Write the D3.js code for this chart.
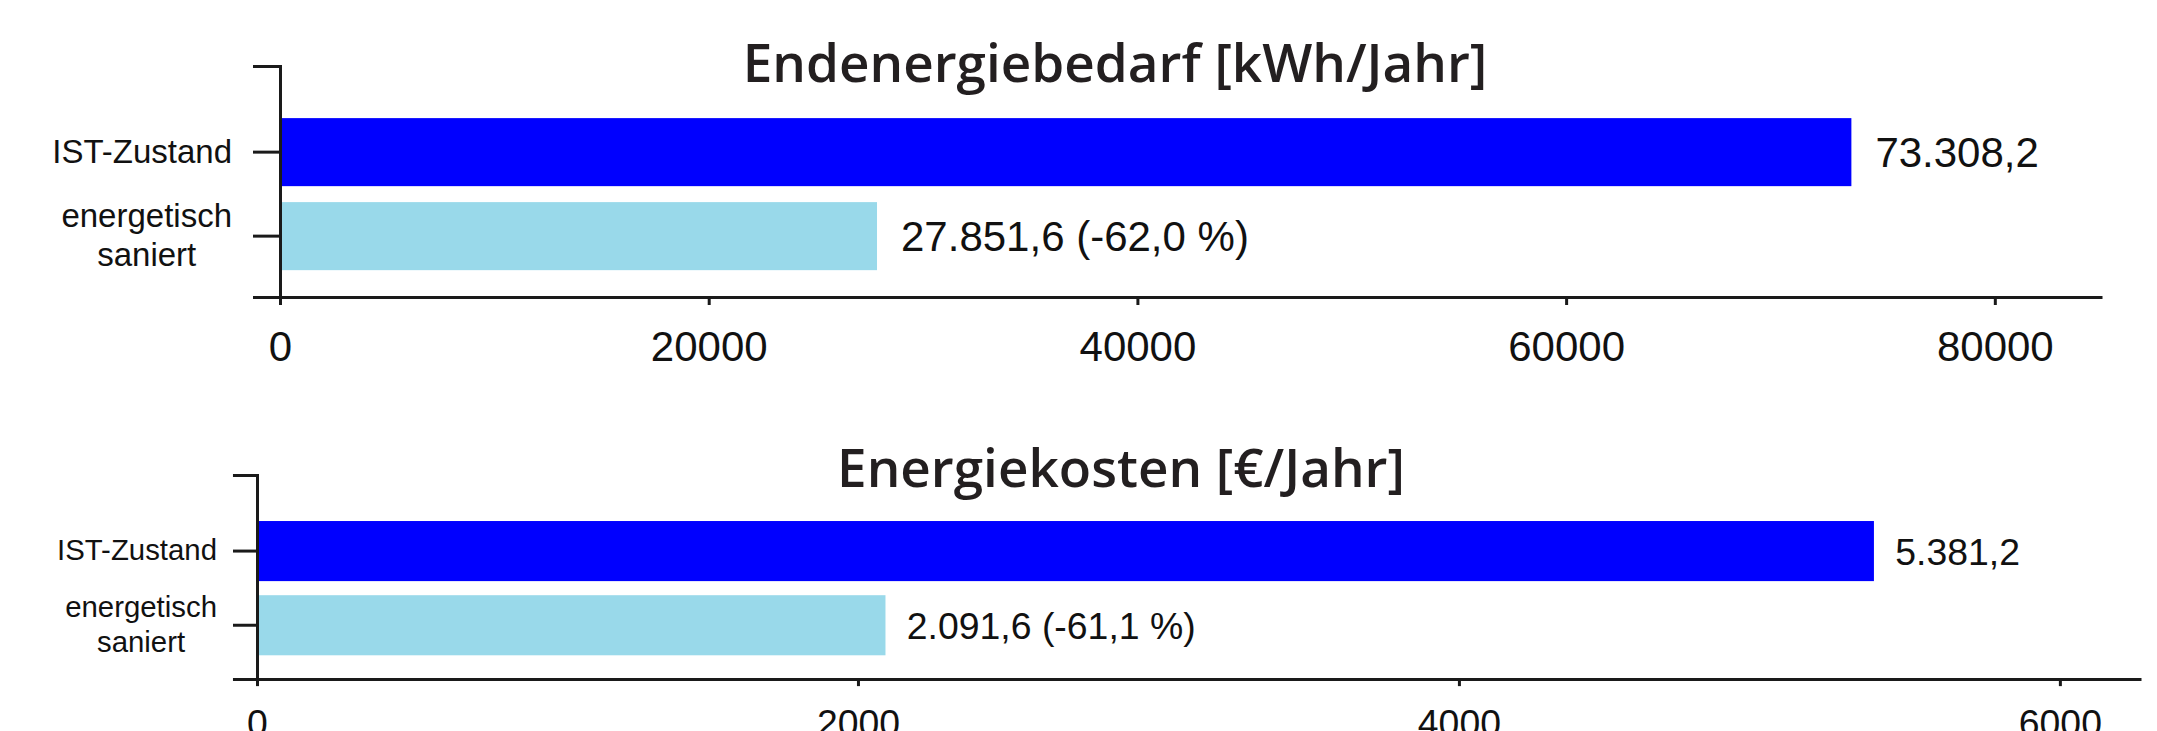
<!DOCTYPE html>
<html lang="de">
<head>
<meta charset="utf-8">
<title>Endenergiebedarf und Energiekosten</title>
<script src="https://cdn.jsdelivr.net/npm/d3@7.9.0/dist/d3.min.js"></script>
<style>
  html, body { margin: 0; padding: 0; background: #fff; }
  svg { display: block; }
  .title { font-family: "Open Sans", sans-serif; font-weight: 600; fill: #231f20; }
  .axis text, .value { font-family: "Liberation Sans", Arial, sans-serif; fill: #111; }
  .axis path, .axis line { stroke: #1a1a1a; stroke-width: 3; }
</style>
</head>
<body>
<svg id="chart"></svg>
<script>
// categories (line breaks as in the original labels)
const categories = ['IST-Zustand', 'energetisch\nsaniert'];

// values
const demandValues = [73308.2, 27851.6]; // kWh/Jahr
const costValues = [5381.2, 2091.6]; // €/Jahr

// tick labels
const demandTicks = [0, 20000, 40000, 60000, 80000];
const costTicks = [0, 2000, 4000, 6000];

const barColors = ['#0000ff', '#99d9ea'];

const width = 2157;
const height = 731;

// german number format: 73.308,2
const de = d3.formatLocale({ decimal: ',', thousands: '.', grouping: [3], currency: ['', ' €'], minus: '-' });
const num = de.format(',.1f');

const panels = [
  {
    title: 'Endenergiebedarf [kWh/Jahr]', values: demandValues, ticks: demandTicks, max: 85000,
    left: 280, right: 2102, top: 66, bottom: 297, titleX: 1115, titleY: 82, labelPad: 21, k: 1,
  },
  {
    title: 'Energiekosten [€/Jahr]', values: costValues, ticks: costTicks, max: 6270,
    left: 257, right: 2141, top: 475, bottom: 679, titleX: 1121, titleY: 487, labelPad: 16, k: 0.89,
  },
];

const svg = d3.select('#chart').attr('width', width).attr('height', height);

function drawPanel(p) {
  const k = p.k;
  const x = d3.scaleLinear().domain([0, p.max]).range([p.left, p.right]);
  const y = d3
    .scaleBand()
    .domain(categories)
    .range([p.top, p.bottom])
    .paddingInner(0.19)
    .paddingOuter(0.47)
    .align(0.66);

  const g = svg.append('g');

  g.append('text')
    .attr('class', 'title')
    .attr('x', p.titleX)
    .attr('y', p.titleY)
    .attr('text-anchor', 'middle')
    .style('font-size', '53px')
    .text(p.title);

  // bars
  g.append('g')
    .selectAll('rect')
    .data(p.values)
    .join('rect')
    .attr('x', x(0))
    .attr('y', (d, i) => y(categories[i]))
    .attr('width', (d) => x(d) - x(0))
    .attr('height', y.bandwidth())
    .attr('fill', (d, i) => barColors[i]);

  // value labels, second one with change vs. IST
  g.append('g')
    .selectAll('text')
    .data(p.values)
    .join('text')
    .attr('class', 'value')
    .attr('x', (d) => x(d) + 24 * k)
    .attr('y', (d, i) => y(categories[i]) + y.bandwidth() / 2)
    .attr('dy', '0.36em')
    .style('font-size', 42 * k + 'px')
    .text((d, i) => (i === 0 ? num(d) : `${num(d)} (${num((d / p.values[0] - 1) * 100)} %)`));

  // x axis
  const xAxis = g
    .append('g')
    .attr('class', 'axis')
    .attr('transform', `translate(0,${p.bottom})`)
    .call(
      d3.axisBottom(x)
        .tickValues(p.ticks)
        .tickFormat(d3.format('d'))
        .tickSize(8 * k)
        .tickSizeOuter(0)
        .tickPadding(26 * k),
    );
  xAxis.selectAll('text').style('font-size', 42 * k + 'px');

  // y axis, outer ticks make the cap at the top
  const tick = 27 * k;
  const yAxis = g
    .append('g')
    .attr('class', 'axis')
    .attr('transform', `translate(${p.left},0)`)
    .call(d3.axisLeft(y).tickSize(tick).tickSizeOuter(tick).tickPadding(p.labelPad));

  // multi-line labels: lines centred on each other, block right-aligned to the tick
  yAxis.selectAll('.tick text').each(function (d) {
    const t = d3.select(this);
    const lines = d.split('\n');
    t.text(null).attr('dy', null).attr('text-anchor', 'middle').style('font-size', 33 * k + 'px');
    const spans = lines.map((line, j) =>
      t.append('tspan')
        .attr('x', 0)
        .attr('dy', j === 0 ? `${0.32 - (lines.length - 1) * 0.6}em` : '1.2em')
        .text(line),
    );
    const w = d3.max(spans, (s) => s.node().getComputedTextLength());
    const cx = -(tick + p.labelPad) - w / 2;
    spans.forEach((s) => s.attr('x', cx));
  });
}

panels.forEach(drawPanel);
</script>
</body>
</html>
